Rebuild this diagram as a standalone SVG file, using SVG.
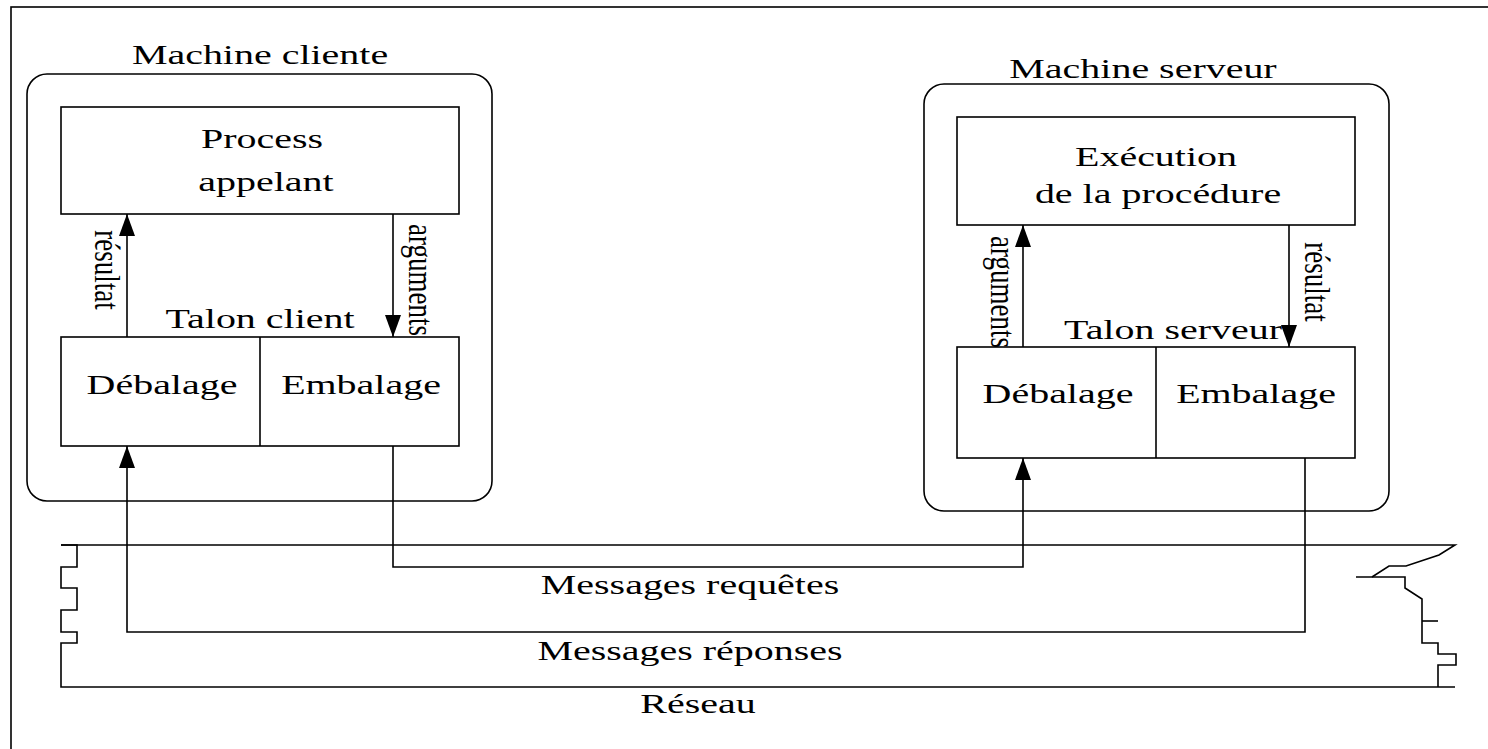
<svg xmlns="http://www.w3.org/2000/svg" width="1488" height="749" viewBox="0 0 1488 749">
<style>
.ln{fill:none;stroke:#000;stroke-width:1.6}
.bx{fill:#fff;stroke:#000;stroke-width:1.6}
.t{font-family:"Liberation Serif","Times New Roman",serif;font-size:27px;fill:#000;text-anchor:middle}
.r{font-family:"Liberation Serif","Times New Roman",serif;font-size:27px;fill:#000;text-anchor:middle}
</style>
<defs>
<marker id="ah" markerUnits="userSpaceOnUse" markerWidth="24" markerHeight="16" refX="22" refY="8" orient="auto">
<path d="M0,0 L22,8 L0,16 Z" fill="#000"/>
</marker>
</defs>
<rect x="0" y="0" width="1488" height="749" fill="#fff"/>
<rect x="11" y="7" width="1500" height="760" class="ln"/>

<g id="network">
<path class="ln" d="M61,545 H77 V567 H61 V588 H77 V610 H61 V632 H77 V643 H61 V687 H1455"/>
<path class="ln" d="M61,545 H1455 L1439,555 L1406,566 H1389 L1372,577"/>
<path class="ln" d="M1356,577 H1405 V588 L1422,599 V643 H1438 V654 H1456 V665 H1438 V687"/>
<path class="ln" d="M1422,621 H1438"/>
<text class="t" transform="translate(698,713) scale(1.48,1)">Réseau</text>
</g>

<g id="machine-cliente">
<rect x="27" y="74" width="465" height="427" rx="20" class="ln"/>
<text class="t" transform="translate(260,64) scale(1.48,1)">Machine cliente</text>
</g>
<g id="process-appelant">
<rect x="61" y="107" width="398" height="107" class="bx"/>
<text class="t" transform="translate(262,148) scale(1.48,1)">Process</text>
<text class="t" transform="translate(266,191) scale(1.48,1)">appelant</text>
</g>
<g id="talon-client">
<text class="t" transform="translate(260,328) scale(1.48,1)">Talon client</text>
<rect x="61" y="337" width="398" height="109" class="bx"/>
<line x1="260" y1="337" x2="260" y2="446" class="ln"/>
<text class="t" transform="translate(162,394) scale(1.48,1)">Débalage</text>
<text class="t" transform="translate(361,394) scale(1.48,1)">Embalage</text>
</g>

<g id="machine-serveur">
<rect x="924" y="84" width="465" height="427" rx="20" class="ln"/>
<text class="t" transform="translate(1143,78) scale(1.48,1)">Machine serveur</text>
</g>
<g id="execution">
<rect x="957" y="117" width="398" height="108" class="bx"/>
<text class="t" transform="translate(1156,166) scale(1.48,1)">Exécution</text>
<text class="t" transform="translate(1158,203) scale(1.48,1)">de la procédure</text>
</g>
<g id="talon-serveur">
<text class="t" transform="translate(1173,339) scale(1.48,1)">Talon serveur</text>
<rect x="957" y="347" width="398" height="111" class="bx"/>
<line x1="1156" y1="347" x2="1156" y2="458" class="ln"/>
<text class="t" transform="translate(1058,403) scale(1.48,1)">Débalage</text>
<text class="t" transform="translate(1256,403) scale(1.48,1)">Embalage</text>
</g>

<g id="connectors">
<line x1="127" y1="337" x2="127" y2="214" class="ln" marker-end="url(#ah)"/>
<line x1="393" y1="214" x2="393" y2="337" class="ln" marker-end="url(#ah)"/>
<line x1="1023" y1="347" x2="1023" y2="225" class="ln" marker-end="url(#ah)"/>
<line x1="1289" y1="225" x2="1289" y2="347" class="ln" marker-end="url(#ah)"/>
<polyline points="393,446 393,567 1023,567 1023,458" class="ln" marker-end="url(#ah)"/>
<polyline points="1305,458 1305,632 127,632 127,446" class="ln" marker-end="url(#ah)"/>
<text class="r" transform="translate(95,270) rotate(90) scale(1,1.35)">résultat</text>
<text class="r" transform="translate(409,280) rotate(90) scale(1,1.35)">arguments</text>
<text class="r" transform="translate(991,292) rotate(90) scale(1,1.35)">arguments</text>
<text class="r" transform="translate(1305,282) rotate(90) scale(1,1.35)">résultat</text>
<text class="t" transform="translate(690,594) scale(1.48,1)">Messages requêtes</text>
<text class="t" transform="translate(690,660) scale(1.48,1)">Messages réponses</text>
</g>
</svg>
